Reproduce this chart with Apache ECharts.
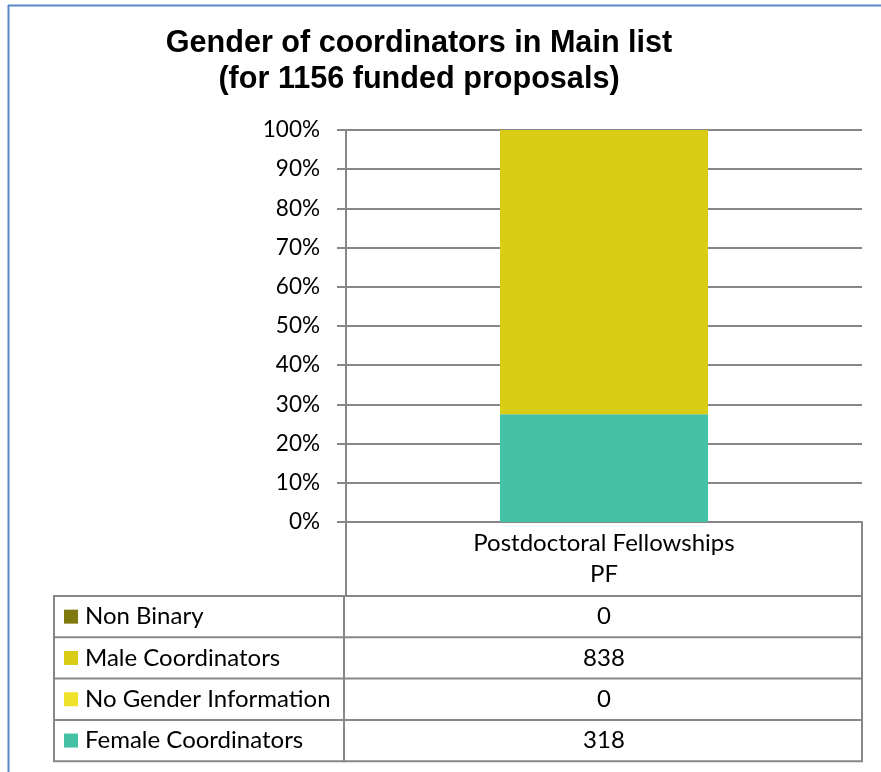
<!doctype html>
<html lang="en">
<head>
  <meta charset="utf-8">
  <title>Gender of coordinators</title>
  <script src="https://cdn.jsdelivr.net/npm/echarts@6/dist/echarts.min.js"></script>
  <style>
    html, body { margin: 0; padding: 0; background: #fff; }
    #chart { width: 881px; height: 772px; }
  </style>
</head>
<body>
  <div id="chart"></div>
  <script type="text/javascript">
    const categories = ['Postdoctoral Fellowships\nPF'];
    const femaleCounts = [318];
    const noGenderCounts = [0];
    const maleCounts = [838];
    const nonBinaryCounts = [0];
    // table order, top to bottom
    const tableRows = [
      { name: 'Non Binary', color: '#7f7a10', values: nonBinaryCounts },
      { name: 'Male Coordinators', color: '#d8cc14', values: maleCounts },
      { name: 'No Gender Information', color: '#eee22a', values: noGenderCounts },
      { name: 'Female Coordinators', color: '#45c2a5', values: femaleCounts }
    ];

    const totals = categories.map((c, i) => femaleCounts[i] + noGenderCounts[i] + maleCounts[i] + nonBinaryCounts[i]);
    const pct = (arr) => arr.map((v, i) => v / totals[i] * 100);

    // layout
    const gridLeft = 346, gridRight = 862, gridTop = 130, gridBottom = 522;
    const headerBottom = 596, tableLeft = 54, colDiv = 344, rowH = 41.3;
    const lineColor = '#878787';
    const font = 'Lato, "Open Sans", sans-serif';
    const textSize = 24;

    const graphic = [
      // blue frame
      { type: 'line', shape: { x1: 8, y1: 5.5, x2: 881, y2: 5.5 }, style: { stroke: '#5b89c8', lineWidth: 2 } },
      { type: 'line', shape: { x1: 8.5, y1: 5, x2: 8.5, y2: 772 }, style: { stroke: '#5b89c8', lineWidth: 2 } },
      // table frame
      { type: 'line', shape: { x1: tableLeft, y1: headerBottom, x2: tableLeft, y2: headerBottom + rowH * tableRows.length }, style: { stroke: lineColor, lineWidth: 2 } },
      { type: 'line', shape: { x1: colDiv, y1: headerBottom, x2: colDiv, y2: headerBottom + rowH * tableRows.length }, style: { stroke: lineColor, lineWidth: 2 } },
      { type: 'line', shape: { x1: gridRight, y1: headerBottom, x2: gridRight, y2: headerBottom + rowH * tableRows.length }, style: { stroke: lineColor, lineWidth: 2 } }
    ];
    for (let r = 0; r <= tableRows.length; r++) {
      const y = headerBottom + rowH * r;
      graphic.push({ type: 'line', shape: { x1: tableLeft - 1, y1: y, x2: gridRight + 1, y2: y }, style: { stroke: lineColor, lineWidth: 2 } });
    }
    tableRows.forEach((row, r) => {
      const cy = headerBottom + rowH * r + rowH / 2;
      graphic.push({ type: 'rect', shape: { x: 64, y: cy - 7, width: 14, height: 14 }, style: { fill: row.color } });
      graphic.push({ type: 'text', x: 85, y: cy, style: { text: row.name, font: textSize + 'px ' + font, fill: '#000', textVerticalAlign: 'middle' } });
      graphic.push({ type: 'text', x: (gridLeft + gridRight) / 2, y: cy, style: { text: String(row.values[0]), font: textSize + 'px ' + font, fill: '#000', textAlign: 'center', textVerticalAlign: 'middle' } });
    });

    const option = {
      animation: false,
      title: {
        text: 'Gender of coordinators in Main list\n(for 1156 funded proposals)',
        left: 414,
        top: 21,
        textAlign: 'center',
        textStyle: { fontFamily: '"Liberation Sans", Arial, sans-serif', fontWeight: 'bold', fontSize: 30.6, lineHeight: 36, color: '#000' }
      },
      grid: { left: gridLeft, right: 881 - gridRight, top: gridTop, bottom: 772 - gridBottom },
      xAxis: {
        type: 'category',
        data: categories,
        axisLine: { lineStyle: { color: lineColor, width: 2 } },
        axisTick: { show: true, length: headerBottom - gridBottom, lineStyle: { color: lineColor, width: 2 } },
        axisLabel: { margin: 6, fontSize: textSize, lineHeight: 31, color: '#000', fontFamily: font }
      },
      yAxis: {
        type: 'value',
        min: 0,
        max: 100,
        interval: 10,
        axisLine: { show: true, lineStyle: { color: lineColor, width: 2 } },
        axisTick: { show: true, length: 9, lineStyle: { color: lineColor, width: 2 } },
        splitLine: { lineStyle: { color: lineColor, width: 2 } },
        axisLabel: { formatter: '{value}%', margin: 26, fontSize: 22.5, color: '#000', fontFamily: font }
      },
      series: [
        { name: 'Female Coordinators', type: 'bar', stack: 'all', barWidth: 208, data: pct(femaleCounts), itemStyle: { color: '#45c2a5' } },
        { name: 'No Gender Information', type: 'bar', stack: 'all', data: pct(noGenderCounts), itemStyle: { color: '#eee22a' } },
        { name: 'Male Coordinators', type: 'bar', stack: 'all', data: pct(maleCounts), itemStyle: { color: '#d8cc14' } },
        { name: 'Non Binary', type: 'bar', stack: 'all', data: pct(nonBinaryCounts), itemStyle: { color: '#7f7a10' } }
      ],
      graphic: graphic
    };

    const chart = echarts.init(document.getElementById('chart'));
    chart.setOption(option);
  </script>
</body>
</html>
